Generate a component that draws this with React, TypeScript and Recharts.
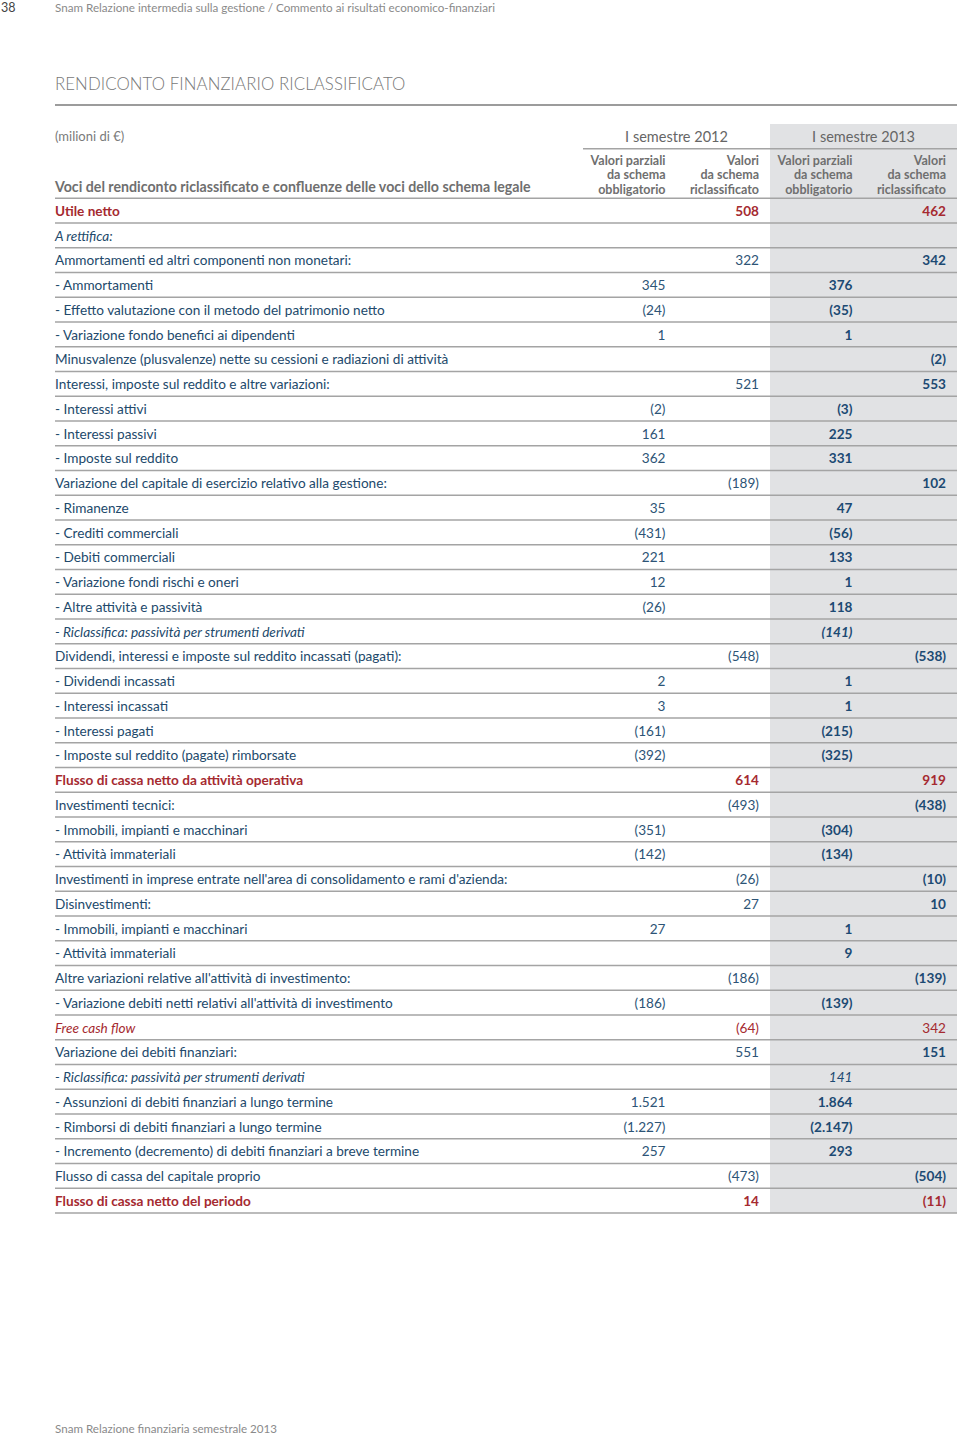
import React from "react";
import { ScatterChart, Scatter, XAxis, YAxis, ReferenceArea } from "recharts";

const FONT = "Lato, 'Open Sans', sans-serif";
const NAVY = "#22496b";
const NAVY_2012 = "#2d5476";
const NAVY_2013 = "#1c4a73";
const RED = "#a52a30";
const GREY = "#6f6f6f";
const RULE = "#a4a4a4";

const SEMESTERS = ["I semestre 2012", "I semestre 2013"];
const SUBHEADS = [
  ["Valori parziali", "da schema", "obbligatorio"],
  ["Valori", "da schema", "riclassificato"],
];
const UNIT_LABEL = "(milioni di €)";
const HEAD_LABEL = "Voci del rendiconto riclassificato e confluenze delle voci dello schema legale";

const ROW_LABELS = [
  "Utile netto",
  "A rettifica:",
  "Ammortamenti ed altri componenti non monetari:",
  "- Ammortamenti",
  "- Effetto valutazione con il metodo del patrimonio netto",
  "- Variazione fondo benefici ai dipendenti",
  "Minusvalenze (plusvalenze) nette su cessioni e radiazioni di attività",
  "Interessi, imposte sul reddito e altre variazioni:",
  "- Interessi attivi",
  "- Interessi passivi",
  "- Imposte sul reddito",
  "Variazione del capitale di esercizio relativo alla gestione:",
  "- Rimanenze",
  "- Crediti commerciali",
  "- Debiti commerciali",
  "- Variazione fondi rischi e oneri",
  "- Altre attività e passività",
  "- Riclassifica: passività per strumenti derivati",
  "Dividendi, interessi e imposte sul reddito incassati (pagati):",
  "- Dividendi incassati",
  "- Interessi incassati",
  "- Interessi pagati",
  "- Imposte sul reddito (pagate) rimborsate",
  "Flusso di cassa netto da attività operativa",
  "Investimenti tecnici:",
  "- Immobili, impianti e macchinari",
  "- Attività immateriali",
  "Investimenti in imprese entrate nell'area di consolidamento e rami d'azienda:",
  "Disinvestimenti:",
  "- Immobili, impianti e macchinari",
  "- Attività immateriali",
  "Altre variazioni relative all'attività di investimento:",
  "- Variazione debiti netti relativi all'attività di investimento",
  "Free cash flow",
  "Variazione dei debiti finanziari:",
  "- Riclassifica: passività per strumenti derivati",
  "- Assunzioni di debiti finanziari a lungo termine",
  "- Rimborsi di debiti finanziari a lungo termine",
  "- Incremento (decremento) di debiti finanziari a breve termine",
  "Flusso di cassa del capitale proprio",
  "Flusso di cassa netto del periodo",
];

// 2012: partial (schema obbligatorio) and reclassified values
const P12 = [null, null, null, 345, -24, 1, null, null, -2, 161, 362, null, 35, -431, 221, 12, -26, null, null, 2, 3, -161, -392, null, null, -351, -142, null, null, 27, null, null, -186, null, null, null, 1521, -1227, 257, null, null];
const R12 = [508, null, 322, null, null, null, null, 521, null, null, null, -189, null, null, null, null, null, null, -548, null, null, null, null, 614, -493, null, null, -26, 27, null, null, -186, null, -64, 551, null, null, null, null, -473, 14];
// 2013
const P13 = [null, null, null, 376, -35, 1, null, null, -3, 225, 331, null, 47, -56, 133, 1, 118, -141, null, 1, 1, -215, -325, null, null, -304, -134, null, null, 1, 9, null, -139, null, null, 141, 1864, -2147, 293, null, null];
const R13 = [462, null, 342, null, null, null, -2, 553, null, null, null, 102, null, null, null, null, null, null, -538, null, null, null, null, 919, -438, null, null, -10, 10, null, null, -139, null, 342, 151, null, null, null, null, -504, -11];

const RED_ROWS = [0, 23, 40];
const RED_ITALIC_ROWS = [33];
const ITALIC_ROWS = [1, 17, 35];
const PLAIN_2013_ROWS = [33, 35];

const COLS = ["p12", "r12", "p13", "r13"];
const COLUMN_VALUES = [P12, R12, P13, R13];
const HEADER_KEYS = ["hA", "hB", "hC"];
const ROW_KEYS = [...HEADER_KEYS, ...ROW_LABELS.map((_, i) => `r${i}`)];

const LEFT = 55;
const RIGHT = 957;
const PLOT_LEFT = 583;
const PLOT_TOP = 124;
const PLOT_BOTTOM = 1213;
const CHART_H = 1220;
const ROW_H = (PLOT_BOTTOM - PLOT_TOP) / ROW_KEYS.length;
const COL_W = (RIGHT - PLOT_LEFT) / COLS.length;
const PAD = 11;

const fmt = (n: number) => {
  const s = String(Math.abs(n)).replace(/\B(?=(\d{3})+(?!\d))/g, ".");
  return n < 0 ? `(${s})` : s;
};

const series = COLS.map((col, ci) =>
  ROW_KEYS.map((row, ri) => ({ col, row, ci, ri }))
);

function RowTick(props: any) {
  const { y, payload } = props;
  const ri = ROW_KEYS.indexOf(payload.value);
  const lineY = y + ROW_H / 2;
  let label: React.ReactNode = null;
  if (ri === 0) {
    label = <text x={LEFT} y={y} dy="0.35em" fontSize={13} fill="#7a7a7a" fontFamily={FONT}>{UNIT_LABEL}</text>;
  } else if (ri === 2) {
    label = <text x={LEFT} y={y + 1} dy="0.35em" fontSize={14.2} fontWeight={700} fill={GREY} fontFamily={FONT}>{HEAD_LABEL}</text>;
  } else if (ri >= 3) {
    const d = ri - 3;
    const red = RED_ROWS.includes(d) || RED_ITALIC_ROWS.includes(d);
    label = (
      <text
        x={LEFT}
        y={y + 0.5}
        dy="0.35em"
        fontSize={13.6}
        fontFamily={FONT}
        fontWeight={RED_ROWS.includes(d) ? 700 : 400}
        fontStyle={ITALIC_ROWS.includes(d) || RED_ITALIC_ROWS.includes(d) ? "italic" : "normal"}
        fill={red ? RED : NAVY}
      >
        {ROW_LABELS[d]}
      </text>
    );
  }
  return (
    <g>
      {label}
      {ri !== 1 && (
        <line x1={ri === 0 ? PLOT_LEFT : LEFT} x2={RIGHT} y1={lineY} y2={lineY} stroke={RULE} strokeWidth={1.5} />
      )}
    </g>
  );
}

function CellShape(props: any) {
  const { cx, cy, payload } = props;
  const { ci, ri } = payload;
  const right = cx + COL_W / 2 - PAD;
  if (ri === 0) {
    if (ci % 2 !== 0) return <g />;
    return (
      <text x={cx + COL_W / 2} y={cy + 0.5} dy="0.35em" textAnchor="middle" fontSize={14.5} fill="#666" fontFamily={FONT}>
        {SEMESTERS[ci / 2]}
      </text>
    );
  }
  if (ri === 1) {
    return (
      <text textAnchor="end" fontSize={12.5} fontWeight={700} fill={GREY} fontFamily={FONT}>
        {SUBHEADS[ci % 2].map((t, k) => (
          <tspan key={k} x={right} y={cy - 1 + k * 14.5} dy="0.35em">{t}</tspan>
        ))}
      </text>
    );
  }
  if (ri < 3) return <g />;
  const d = ri - 3;
  const v = COLUMN_VALUES[ci][d];
  if (v === null || v === undefined) return <g />;
  const is2013 = ci >= 2;
  const red = RED_ROWS.includes(d) || RED_ITALIC_ROWS.includes(d);
  let weight = is2013 ? 700 : 400;
  if (RED_ROWS.includes(d)) weight = 700;
  if (is2013 && PLAIN_2013_ROWS.includes(d)) weight = 400;
  return (
    <text
      x={right}
      y={cy + 0.5}
      dy="0.35em"
      textAnchor="end"
      fontSize={13.6}
      fontFamily={FONT}
      fontWeight={weight}
      fontStyle={ITALIC_ROWS.includes(d) ? "italic" : "normal"}
      fill={red ? RED : is2013 ? NAVY_2013 : NAVY_2012}
    >
      {fmt(v)}
    </text>
  );
}

const abs = (top: number, left: number, style: React.CSSProperties = {}): React.CSSProperties => ({
  position: "absolute",
  top,
  left,
  lineHeight: "16px",
  whiteSpace: "nowrap",
  fontFamily: FONT,
  ...style,
});

export default function App() {
  return (
    <div style={{ position: "absolute", top: 0, left: 0, width: 960, height: 1435, background: "#fff", overflow: "hidden" }}>
      <div style={abs(0, 1, { fontSize: 12.5, color: "#444" })}>38</div>
      <div style={abs(0, 55, { fontSize: 11.65, color: "#8a8a8a" })}>
        Snam Relazione intermedia sulla gestione / Commento ai risultati economico-finanziari
      </div>
      <div style={abs(74, 55, { fontSize: 16.8, color: "#787878", lineHeight: "20px", fontWeight: 300, letterSpacing: 0.1 })}>
        RENDICONTO FINANZIARIO RICLASSIFICATO
      </div>
      <div style={{ position: "absolute", top: 104, left: LEFT, width: RIGHT - LEFT, height: 1.5, background: "#9c9c9c" }} />
      <div style={{ position: "absolute", top: 0, left: 0 }}>
        <ScatterChart width={960} height={CHART_H} margin={{ top: PLOT_TOP, right: 960 - RIGHT, bottom: CHART_H - PLOT_BOTTOM, left: LEFT }}>
          <XAxis type="category" dataKey="col" allowDuplicatedCategory={false} hide />
          <YAxis
            type="category"
            dataKey="row"
            allowDuplicatedCategory={false}
            reversed
            interval={0}
            axisLine={false}
            tickLine={false}
            width={PLOT_LEFT - LEFT}
            tick={<RowTick />}
          />
          <ReferenceArea x1="p13" x2="r13" fill="#e1e2e4" fillOpacity={1} stroke="none" ifOverflow="visible" />
          {series.map((data, i) => (
            <Scatter key={COLS[i]} data={data} shape={<CellShape />} isAnimationActive={false} />
          ))}
        </ScatterChart>
      </div>
      <div style={abs(1421, 55, { fontSize: 11.6, color: "#8a8a8a" })}>Snam Relazione finanziaria semestrale 2013</div>
    </div>
  );
}
